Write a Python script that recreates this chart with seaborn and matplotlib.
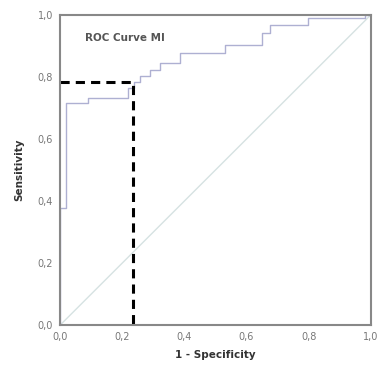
import matplotlib
matplotlib.use('Agg')
import matplotlib.pyplot as plt
import seaborn as sns

sns.set_style('white')
plt.rcParams['font.family'] = ['DejaVu Sans']

# ROC curve corner points
fpr = [0, 0, 0.019, 0.019, 0.09, 0.09, 0.219, 0.219, 0.238, 0.238, 0.257, 0.257,
       0.289, 0.289, 0.322, 0.322, 0.386, 0.386, 0.531, 0.531, 0.650, 0.650,
       0.675, 0.675, 0.797, 0.797, 0.98, 0.98, 1.0]
tpr = [0, 0.377, 0.377, 0.716, 0.716, 0.732, 0.732, 0.765, 0.765, 0.784, 0.784, 0.803,
       0.803, 0.823, 0.823, 0.845, 0.845, 0.877, 0.877, 0.903, 0.903, 0.942,
       0.942, 0.968, 0.968, 0.99, 0.99, 1.0, 1.0]
ref_line = [0, 1]
cutoff_fpr = 0.235
cutoff_tpr = 0.784
ticks = [0, 0.2, 0.4, 0.6, 0.8, 1.0]
tick_labels = ['0,0', '0,2', '0,4', '0,6', '0,8', '1,0']

fig = plt.figure(figsize=(3.78, 3.72), dpi=100)
ax = fig.add_axes([0.159, 0.126, 0.822, 0.834])

sns.lineplot(x=ref_line, y=ref_line, ax=ax, color='#d6e2e2', lw=1)
sns.lineplot(x=fpr, y=tpr, ax=ax, sort=False, estimator=None,
             color='#aeb0d2', lw=1)
ax.plot([0, cutoff_fpr, cutoff_fpr], [cutoff_tpr, cutoff_tpr, 0],
        color='black', lw=2.2, ls=(0, (3, 2)))

ax.set_xlim(0, 1)
ax.set_ylim(0, 1)
ax.set_xticks(ticks)
ax.set_yticks(ticks)
ax.set_xticklabels(tick_labels, color='#777777', fontsize=7)
ax.set_yticklabels(tick_labels, color='#777777', fontsize=7)
ax.tick_params(length=3, color='#888888', width=1, pad=2)
for s in ax.spines.values():
    s.set_color('#888888')
    s.set_linewidth(1.5)

ax.set_xlabel('1 - Specificity', fontsize=7.5, weight='bold', color='#333333', labelpad=6)
ax.set_ylabel('Sensitivity', fontsize=7.5, weight='bold', color='#333333', labelpad=10)
ax.text(0.08, 0.925, 'ROC Curve MI', transform=ax.transAxes, fontsize=7.5,
        weight='bold', color='#555555', va='center')

fig.savefig('out.png', dpi=100)
